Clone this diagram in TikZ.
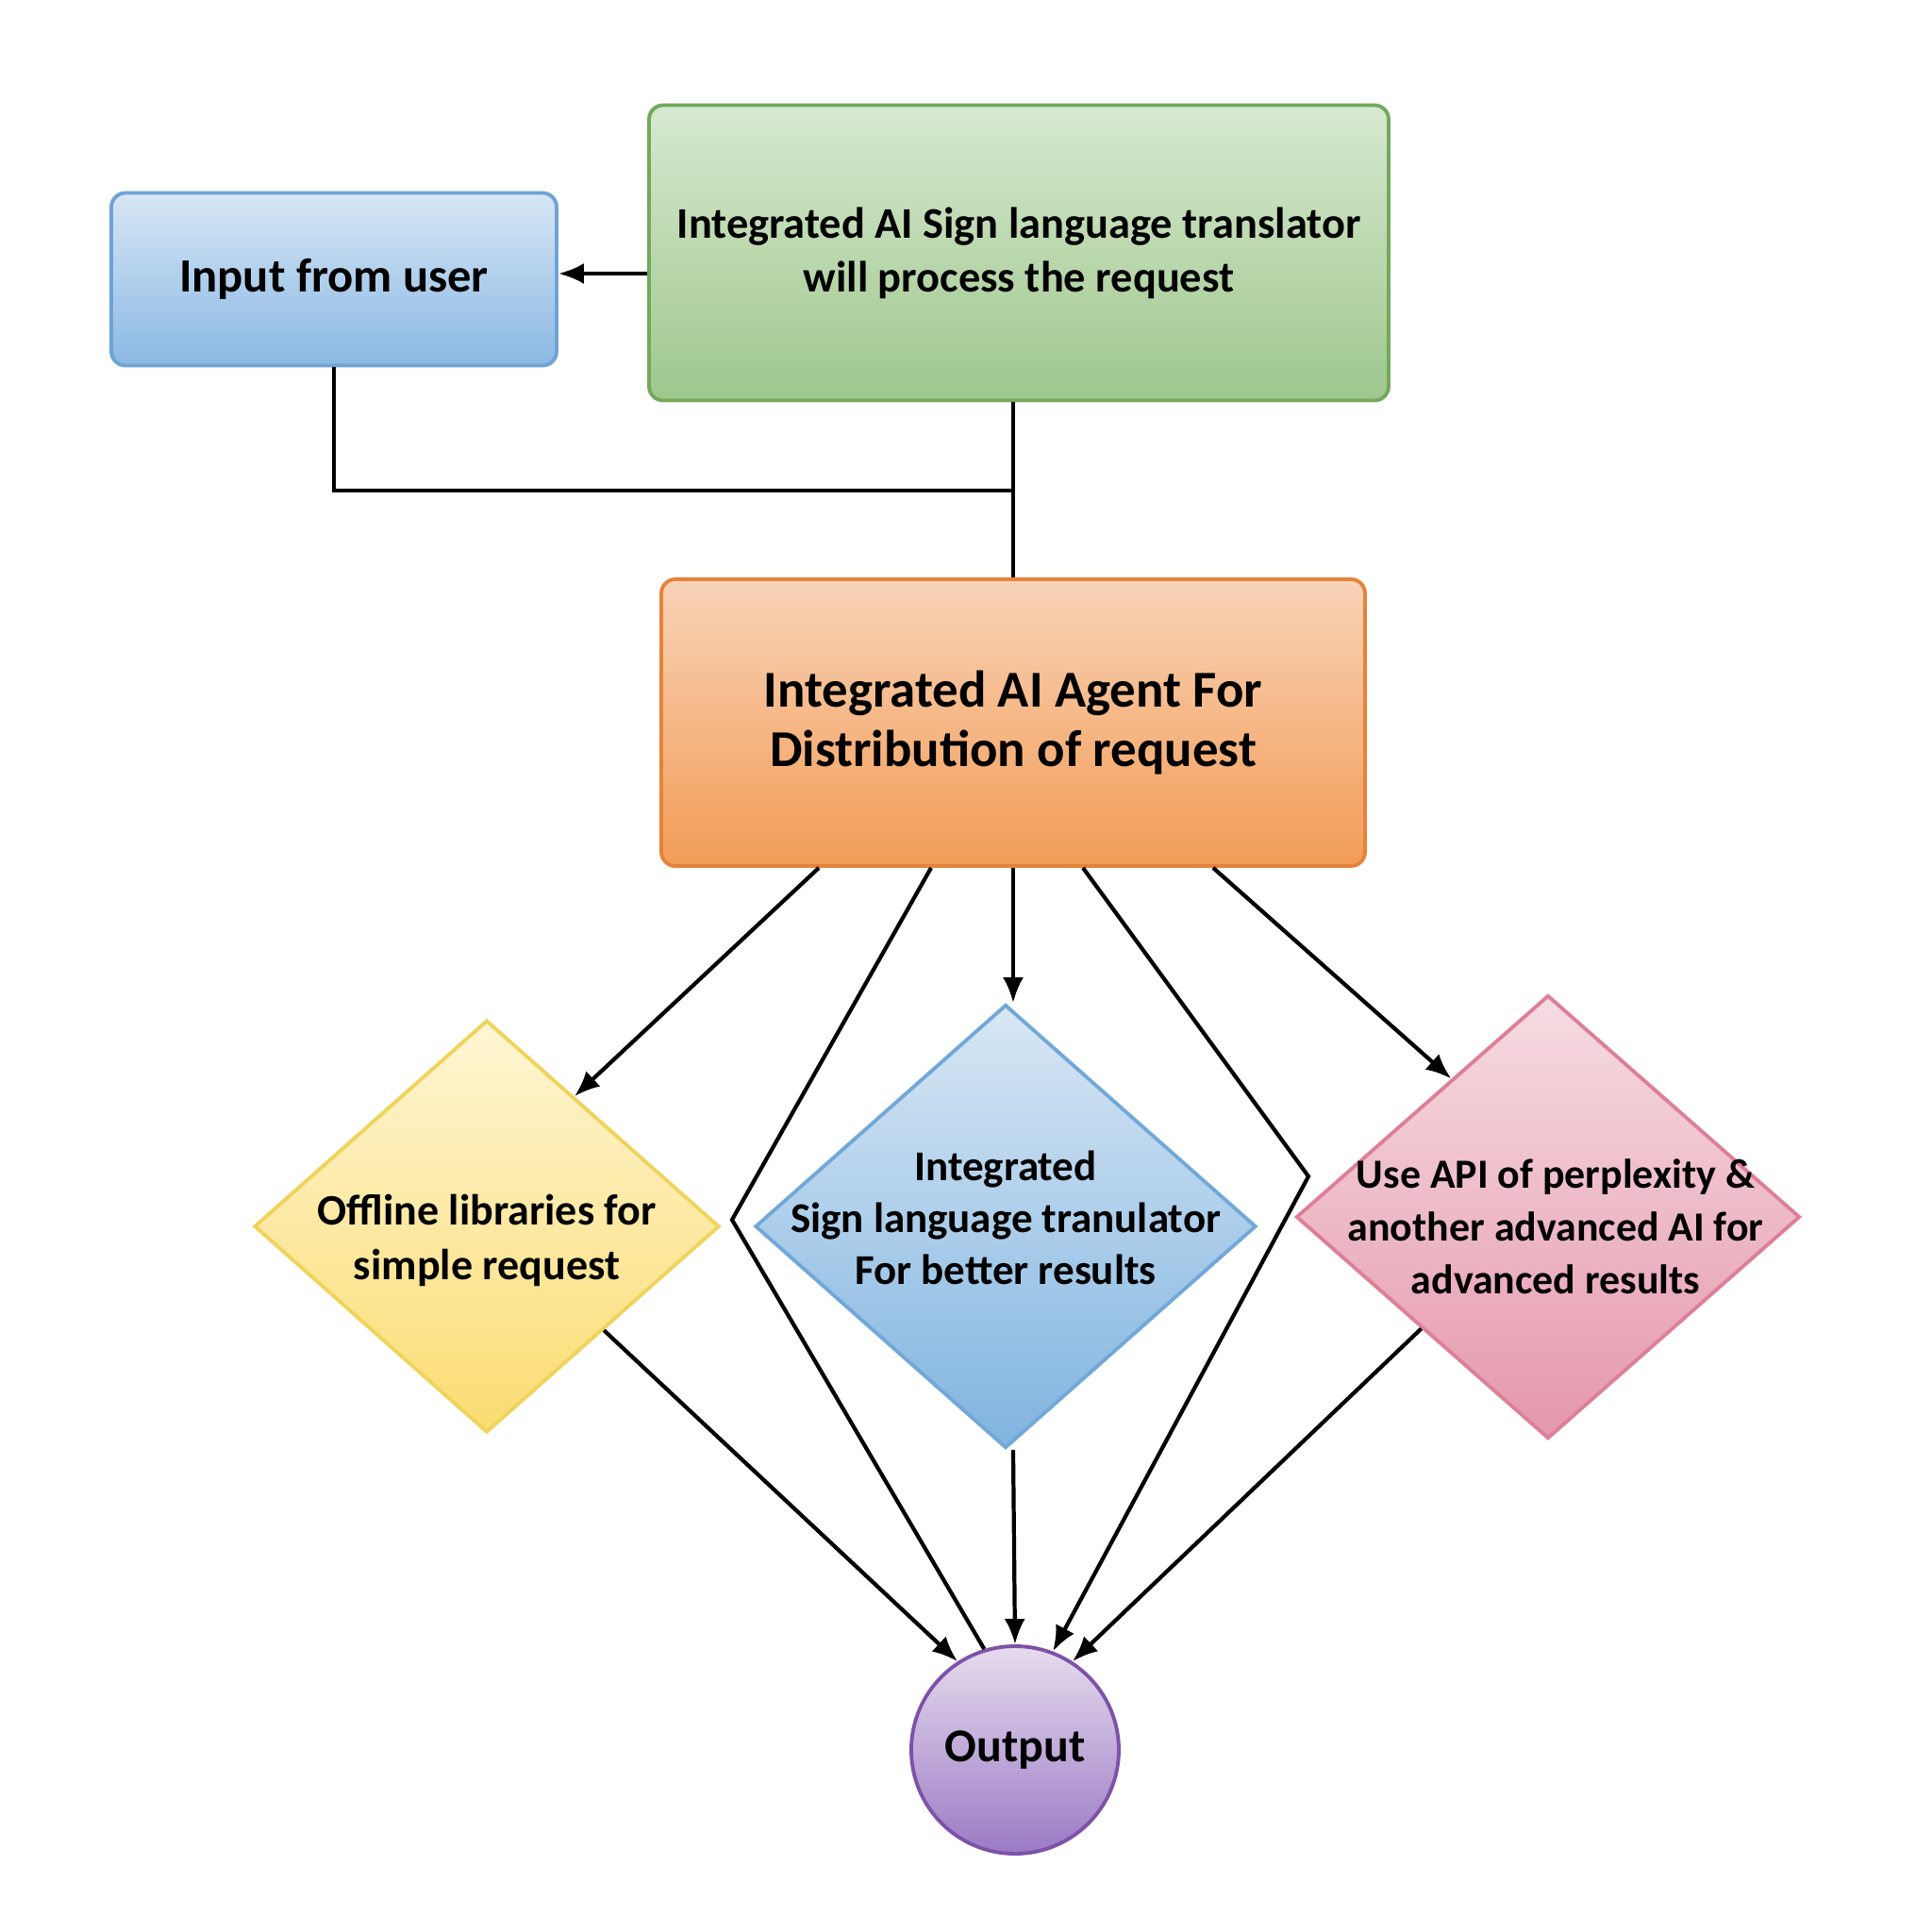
\documentclass[tikz,border=0pt]{standalone}
\usepackage{fontspec}
\setmainfont{Carlito}
\usetikzlibrary{shapes.geometric,arrows.meta}

\definecolor{inpline}{HTML}{6FA3D6}
\definecolor{inptop}{HTML}{D6E6F5}
\definecolor{inpbot}{HTML}{8BB8E3}
\definecolor{trline}{HTML}{74A85C}
\definecolor{trtop}{HTML}{D7E9D0}
\definecolor{trbot}{HTML}{9EC78C}
\definecolor{agline}{HTML}{E6823A}
\definecolor{agtop}{HTML}{F8D3B8}
\definecolor{agbot}{HTML}{F39C55}
\definecolor{offline}{HTML}{F0D35A}
\definecolor{offtop}{HTML}{FFF6D4}
\definecolor{offbot}{HTML}{FBDC72}
\definecolor{slline}{HTML}{72A8D8}
\definecolor{sltop}{HTML}{D8E7F4}
\definecolor{slbot}{HTML}{80B4E0}
\definecolor{apiline}{HTML}{DD7F99}
\definecolor{apitop}{HTML}{F6DCE2}
\definecolor{apibot}{HTML}{E597AD}
\definecolor{outline}{HTML}{7D52A8}
\definecolor{outtop}{HTML}{E6DCEE}
\definecolor{outbot}{HTML}{9B7AC5}

\begin{document}
\begin{tikzpicture}[
    box/.style={rectangle, rounded corners=0.15cm, line width=1.1pt, align=center, inner sep=0pt},
    dia/.style={diamond, line width=1.1pt, inner sep=0pt},
    arr/.style={-{Latex[length=0.27cm,width=0.22cm]}, line width=1.2pt},
    con/.style={line width=1.2pt}
  ]
    \useasboundingbox[fill=white] (0,0) rectangle (20.48,-20.48);

    % Boxes
    \node[box, draw=inpline, top color=inptop, bottom color=inpbot, minimum width=4.72cm, minimum height=1.83cm,
      font=\bfseries\fontsize{14.4}{18}\selectfont] (inp) at (3.54,-2.96) {Input from user};
    \node[box, draw=trline, top color=trtop, bottom color=trbot, minimum width=7.84cm, minimum height=3.13cm,
      font=\bfseries\fontsize{13.2}{16.3}\selectfont] (trans) at (10.80,-2.68)
      {Integrated AI Sign language translator\\will process the request};
    \node[box, draw=agline, top color=agtop, bottom color=agbot, minimum width=7.46cm, minimum height=3.04cm,
      font=\bfseries\fontsize{15.6}{17.8}\selectfont] (agent) at (10.74,-7.66)
      {Integrated AI Agent For\\Distribution of request};

    % Diamonds
    \node[dia, draw=offline, top color=offtop, bottom color=offbot, minimum width=4.93cm, minimum height=4.37cm,
      label={[align=center, font=\bfseries\fontsize{13.1}{16.3}\selectfont, yshift=-0.15cm]center:Offline libraries for\\simple request}]
      (offline) at (5.16,-13.00) {};
    \node[dia, draw=slline, top color=sltop, bottom color=slbot, minimum width=5.31cm, minimum height=4.70cm,
      label={[align=center, font=\bfseries\fontsize{12.8}{15.6}\selectfont, yshift=0.09cm]center:Integrated\\Sign language tranulator\\For better results}]
      (sltr) at (10.66,-13.00) {};
    \node[dia, draw=apiline, top color=apitop, bottom color=apibot, minimum width=5.34cm, minimum height=4.70cm,
      label={[align=center, font=\bfseries\fontsize{12.5}{16}\selectfont, xshift=0.08cm, yshift=-0.1cm]center:Use API of perplexity \&\\another advanced AI for\\advanced results}]
      (api) at (16.41,-12.90) {};

    % Output
    \node[circle, draw=outline, line width=1.1pt, top color=outtop, bottom color=outbot, minimum size=2.2cm, inner sep=0pt,
      font=\bfseries\fontsize{14.2}{17}\selectfont] (out) at (10.76,-18.55) {Output};

    % Top connectors
    \draw[arr] ([yshift=0.06cm]trans.west |- inp.east) -- ([yshift=0.06cm]inp.east);
    \coordinate (join) at (10.75,-5.20);
    \draw[con] (inp.south) |- (join);
    \draw[con] (trans.south -| agent.south) -- (agent.north);

    % Distribution
    \draw[arr] ([xshift=-2.06cm]agent.south) -- (offline.56);
    \draw[con] ([xshift=-0.87cm]agent.south) -- (7.76,-12.93) -- (out.107);
    \draw[arr] (agent.south) -- (agent.south |- sltr.north);
    \draw[arr] ([xshift=0.74cm]agent.south) -- (13.87,-12.47) -- (out.69);
    \draw[arr] ([xshift=2.12cm]agent.south) -- (api.125);

    % To output
    \draw[arr] (offline.south east) -- (out.123);
    \draw[arr] (agent.south |- sltr.south) -- (out.north);
    \draw[arr] (api.south west) -- (out.57);
\end{tikzpicture}
\end{document}
